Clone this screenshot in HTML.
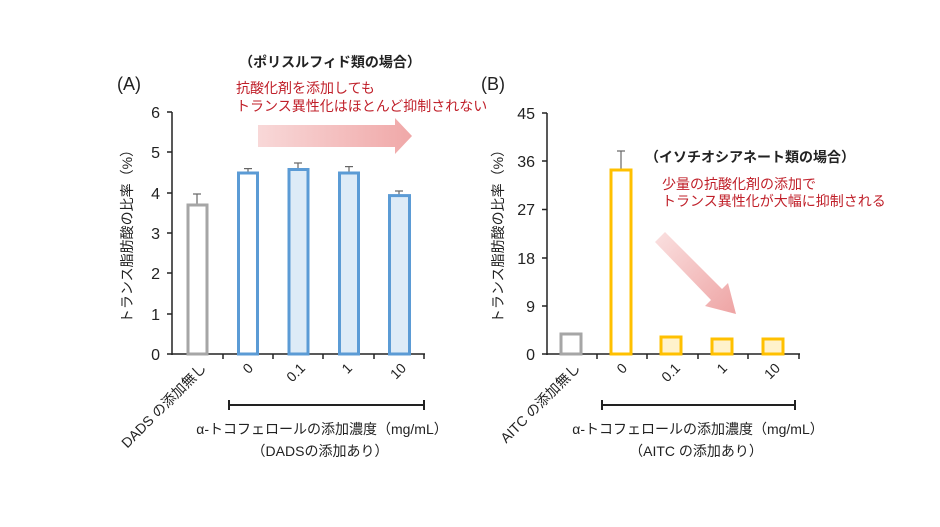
<!DOCTYPE html>
<html><head><meta charset="utf-8"><style>
html,body{margin:0;padding:0;background:#fff;}
svg{display:block;font-family:"Liberation Sans","Noto Sans CJK JP",sans-serif;}
</style></head><body>
<svg width="940" height="527" viewBox="0 0 940 527" xmlns="http://www.w3.org/2000/svg">
<defs>
<linearGradient id="ga" x1="0" x2="1" y1="0" y2="0"><stop offset="0" stop-color="#f8d8d8"/><stop offset="1" stop-color="#f0a8a8"/></linearGradient>
<linearGradient id="gb" x1="0" x2="1" y1="0" y2="1"><stop offset="0" stop-color="#fae0e0"/><stop offset="1" stop-color="#eea4a4"/></linearGradient>
</defs>
<!-- Chart A -->
<text x="117" y="90" font-size="18" fill="#222">(A)</text>
<text x="330" y="67" font-size="14" font-weight="bold" fill="#222" text-anchor="middle">（ポリスルフィド類の場合）</text>
<text x="236" y="93" font-size="14" fill="#c0202a">抗酸化剤を添加しても</text>
<text x="236" y="111" font-size="14" fill="#c0202a">トランス異性化はほとんど抑制されない</text>
<polygon points="258,125 395,125 395,118 412,136 395,154 395,147 258,147" fill="url(#ga)"/>
<text transform="translate(132,233) rotate(-90)" font-size="14" fill="#222" text-anchor="middle">トランス脂肪酸の比率（%）</text>
<g font-size="16" fill="#222" text-anchor="end">
<text x="160" y="360">0</text><text x="160" y="320">1</text><text x="160" y="279">2</text><text x="160" y="239">3</text><text x="160" y="199">4</text><text x="160" y="158">5</text><text x="160" y="118">6</text>
</g>
<g stroke="#222" stroke-width="1.5">
<line x1="172" y1="112" x2="172" y2="355"/><line x1="172" y1="354" x2="425" y2="354"/>
<line x1="167" y1="112" x2="172" y2="112"/><line x1="167" y1="152" x2="172" y2="152"/><line x1="167" y1="193" x2="172" y2="193"/><line x1="167" y1="233" x2="172" y2="233"/><line x1="167" y1="273" x2="172" y2="273"/><line x1="167" y1="314" x2="172" y2="314"/><line x1="167" y1="354" x2="172" y2="354"/>
<line x1="223" y1="354" x2="223" y2="359"/><line x1="273" y1="354" x2="273" y2="359"/><line x1="323" y1="354" x2="323" y2="359"/><line x1="374" y1="354" x2="374" y2="359"/><line x1="424" y1="354" x2="424" y2="359"/>
</g>
<g stroke="#666" stroke-width="1.2">
<line x1="197" y1="205" x2="197" y2="194"/><line x1="193" y1="194" x2="201" y2="194"/>
<line x1="248" y1="173" x2="248" y2="168.6"/><line x1="244" y1="168.6" x2="252" y2="168.6"/>
<line x1="298" y1="169.5" x2="298" y2="163"/><line x1="294" y1="163" x2="302" y2="163"/>
<line x1="349" y1="173" x2="349" y2="166.6"/><line x1="345" y1="166.6" x2="353" y2="166.6"/>
<line x1="399" y1="195.6" x2="399" y2="191"/><line x1="395" y1="191" x2="403" y2="191"/>
</g>
<rect x="188" y="205" width="19" height="149" fill="#fff" stroke="#a6a6a6" stroke-width="3"/>
<rect x="238.5" y="173" width="19" height="181" fill="#fff" stroke="#5b9bd5" stroke-width="3"/>
<rect x="289" y="169.5" width="19" height="184.5" fill="#ddebf7" stroke="#5b9bd5" stroke-width="3"/>
<rect x="339.5" y="173" width="19" height="181" fill="#ddebf7" stroke="#5b9bd5" stroke-width="3"/>
<rect x="389.5" y="195.6" width="20" height="158.4" fill="#ddebf7" stroke="#5b9bd5" stroke-width="3"/>
<g font-size="14" fill="#222" text-anchor="end">
<text transform="translate(207,369) rotate(-45)">DADS の添加無し</text>
<text transform="translate(254,369) rotate(-45)">0</text>
<text transform="translate(306,369) rotate(-45)">0.1</text>
<text transform="translate(353,369) rotate(-45)">1</text>
<text transform="translate(407,369) rotate(-45)">10</text>
</g>
<g stroke="#222" stroke-width="2"><line x1="229" y1="405" x2="424" y2="405"/><line x1="229" y1="400" x2="229" y2="410"/><line x1="424" y1="400" x2="424" y2="410"/></g>
<text x="322" y="434" font-size="14" fill="#222" text-anchor="middle">α-トコフェロールの添加濃度（mg/mL）</text>
<text x="320" y="456" font-size="14" fill="#222" text-anchor="middle">（DADSの添加あり）</text>

<!-- Chart B -->
<text x="481" y="90" font-size="18" fill="#222">(B)</text>
<text x="750" y="162" font-size="14" font-weight="bold" fill="#222" text-anchor="middle">（イソチオシアネート類の場合）</text>
<text x="662" y="189" font-size="14" fill="#c0202a">少量の抗酸化剤の添加で</text>
<text x="662" y="206" font-size="14" fill="#c0202a">トランス異性化が大幅に抑制される</text>
<polygon points="665,232 722,289 728,283 736,314 705,306 711,300 655,242" fill="url(#gb)"/>
<text transform="translate(503,233) rotate(-90)" font-size="14" fill="#222" text-anchor="middle">トランス脂肪酸の比率（%）</text>
<g font-size="16" fill="#222" text-anchor="end">
<text x="535" y="360">0</text><text x="535" y="312">9</text><text x="535" y="264">18</text><text x="535" y="215">27</text><text x="535" y="167">36</text><text x="535" y="119">45</text>
</g>
<g stroke="#222" stroke-width="1.5">
<line x1="547" y1="113" x2="547" y2="355"/><line x1="547" y1="354" x2="800" y2="354"/>
<line x1="542" y1="113" x2="547" y2="113"/><line x1="542" y1="161" x2="547" y2="161"/><line x1="542" y1="209.5" x2="547" y2="209.5"/><line x1="542" y1="258" x2="547" y2="258"/><line x1="542" y1="306" x2="547" y2="306"/><line x1="542" y1="354" x2="547" y2="354"/>
<line x1="597" y1="354" x2="597" y2="359"/><line x1="647" y1="354" x2="647" y2="359"/><line x1="698" y1="354" x2="698" y2="359"/><line x1="748" y1="354" x2="748" y2="359"/><line x1="799" y1="354" x2="799" y2="359"/>
</g>
<g stroke="#666" stroke-width="1.2">
<line x1="621" y1="170" x2="621" y2="151"/><line x1="617" y1="151" x2="625" y2="151"/>
</g>
<rect x="561" y="334" width="20" height="20" fill="#fff" stroke="#a6a6a6" stroke-width="3"/>
<rect x="611" y="170" width="20" height="184" fill="#fff" stroke="#ffc000" stroke-width="3"/>
<rect x="661" y="337" width="20" height="17" fill="#fff2cc" stroke="#ffc000" stroke-width="3"/>
<rect x="712" y="339" width="20" height="15" fill="#fff2cc" stroke="#ffc000" stroke-width="3"/>
<rect x="763" y="339" width="20" height="15" fill="#fff2cc" stroke="#ffc000" stroke-width="3"/>
<g font-size="14" fill="#222" text-anchor="end">
<text transform="translate(581,369) rotate(-45)">AITC の添加無し</text>
<text transform="translate(628,369) rotate(-45)">0</text>
<text transform="translate(681,369) rotate(-45)">0.1</text>
<text transform="translate(728,369) rotate(-45)">1</text>
<text transform="translate(781,369) rotate(-45)">10</text>
</g>
<g stroke="#222" stroke-width="2"><line x1="602" y1="405" x2="795" y2="405"/><line x1="602" y1="400" x2="602" y2="410"/><line x1="795" y1="400" x2="795" y2="410"/></g>
<text x="698" y="434" font-size="14" fill="#222" text-anchor="middle">α-トコフェロールの添加濃度（mg/mL）</text>
<text x="696" y="456" font-size="14" fill="#222" text-anchor="middle">（AITC の添加あり）</text>
</svg>
</body></html>
